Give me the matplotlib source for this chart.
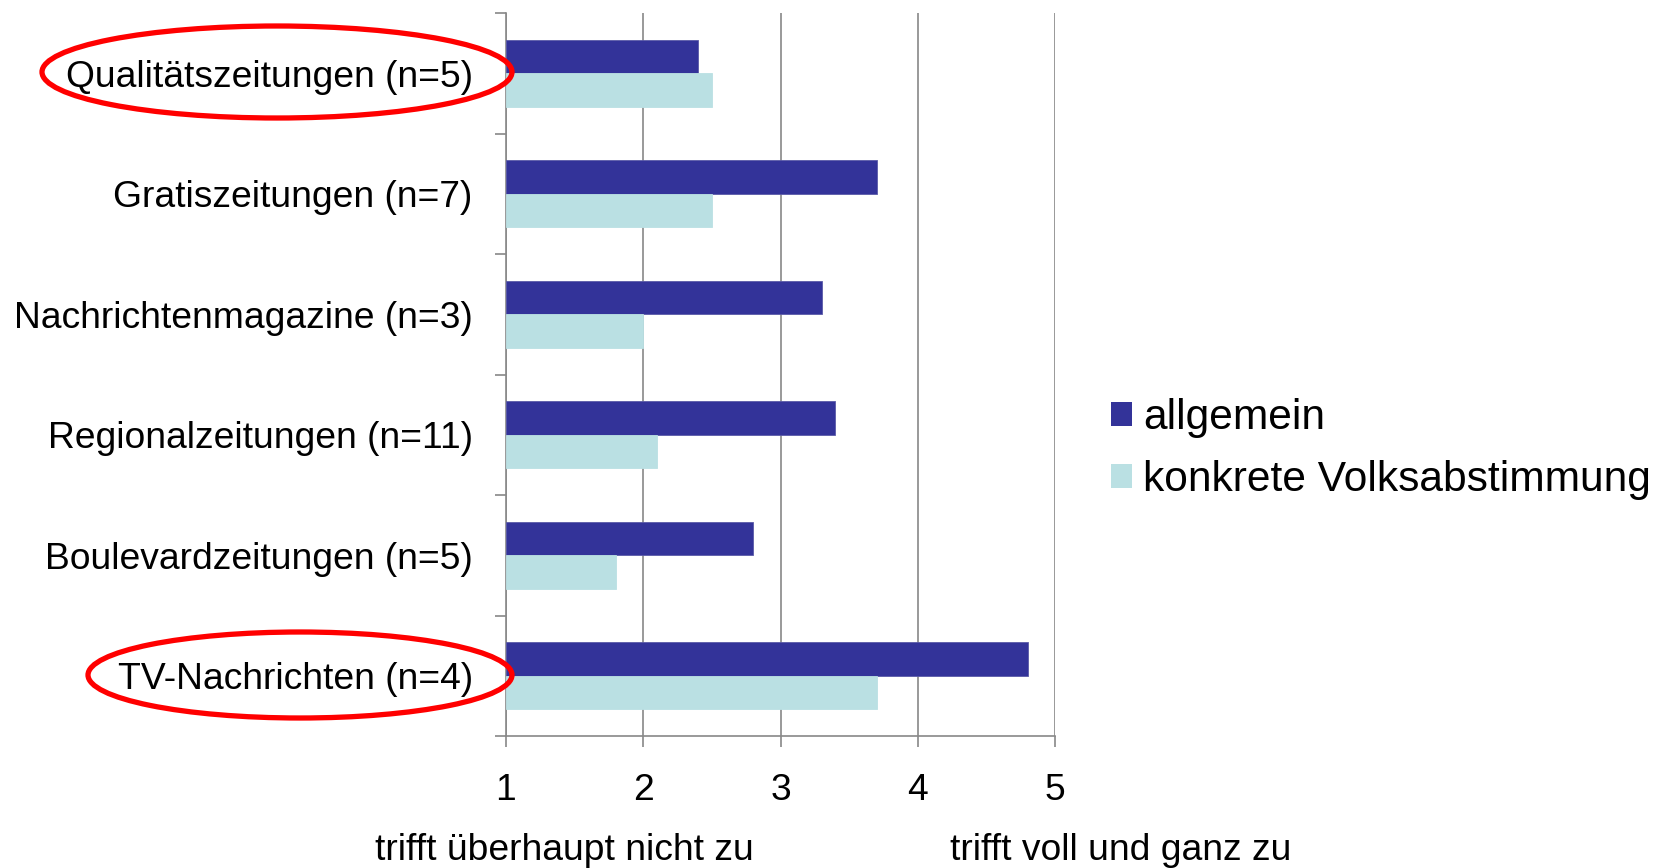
import matplotlib
matplotlib.use("Agg")
import matplotlib.pyplot as plt
from matplotlib.patches import Ellipse, Patch
import numpy as np

plt.rcParams['font.family'] = ['Liberation Sans', 'DejaVu Sans']

categories = [
    "Qualitätszeitungen (n=5)",
    "Gratiszeitungen (n=7)",
    "Nachrichtenmagazine (n=3)",
    "Regionalzeitungen (n=11)",
    "Boulevardzeitungen (n=5)",
    "TV-Nachrichten (n=4)",
]
allgemein = [2.4, 3.7, 3.3, 3.4, 2.8, 4.8]
konkret = [2.5, 2.5, 2.0, 2.1, 1.8, 3.7]
series_names = ["allgemein", "konkrete Volksabstimmung"]
x_ticks = [1, 2, 3, 4, 5]
scale_low = "trifft überhaupt nicht zu"
scale_high = "trifft voll und ganz zu"

dark = "#333399"
light = "#BAE0E3"
grid_c = "#888888"
fs = 26.8
fs_leg = 30.6

W, H = 1656, 868
fig = plt.figure(figsize=(W / 100, H / 100), dpi=100)
ax = fig.add_axes([506 / W, 1 - 736 / H, (1055 - 506) / W, (736 - 13) / H])

n = len(categories)
pos = np.arange(n)
bh = 0.28
ax.barh(pos - bh / 2, [v - 1 for v in allgemein], left=1, height=bh, color=dark,
        edgecolor="#5a5aa8", linewidth=0.6, zorder=3)
ax.barh(pos + bh / 2, [v - 1 for v in konkret], left=1, height=bh, color=light,
        edgecolor=light, linewidth=0.6, zorder=3)

ax.set_xlim(1, 5)
ax.set_ylim(n - 0.5, -0.5)

ax.set_xticks(x_ticks)
ax.set_xticklabels([str(t) for t in x_ticks], fontsize=fs)
ax.tick_params(axis="x", length=8, width=1.2, color=grid_c, pad=19)

ax.set_yticks(np.arange(-0.5, n, 1.0))
ax.set_yticklabels([])
ax.tick_params(axis="y", which="major", length=8, width=1.2, color=grid_c)
ax.set_yticks(pos, minor=True)
ax.set_yticklabels(categories, minor=True, fontsize=fs)
ax.tick_params(axis="y", which="minor", length=0, pad=24)

ax.grid(axis="x", color=grid_c, linewidth=1.2, zorder=0)
for s in ["top", "right"]:
    ax.spines[s].set_visible(False)
for s in ["left", "bottom"]:
    ax.spines[s].set_color(grid_c)
    ax.spines[s].set_linewidth(1.2)

handles = [Patch(facecolor=dark), Patch(facecolor=light)]
fig.legend(handles, series_names, loc="center left",
           bbox_to_anchor=(1111 / W, 1 - 449 / H), frameon=False, fontsize=fs_leg,
           handlelength=0.5, handleheight=0.5, handletextpad=0.25,
           labelspacing=0.52, borderaxespad=0, borderpad=0)

fig.text(564 / W, 1 - 850 / H, scale_low, fontsize=fs, ha="center", va="center")
fig.text(1121 / W, 1 - 850 / H, scale_high, fontsize=fs, ha="center", va="center")

for (cx, cy, w, h) in [(277, 72, 470, 92), (300, 675, 424, 86)]:
    e = Ellipse((cx / W, 1 - cy / H), w / W, h / H, transform=fig.transFigure,
                fill=False, edgecolor="#FF0000", linewidth=3.8, zorder=10)
    fig.add_artist(e)

fig.savefig("out.png", dpi=100)
